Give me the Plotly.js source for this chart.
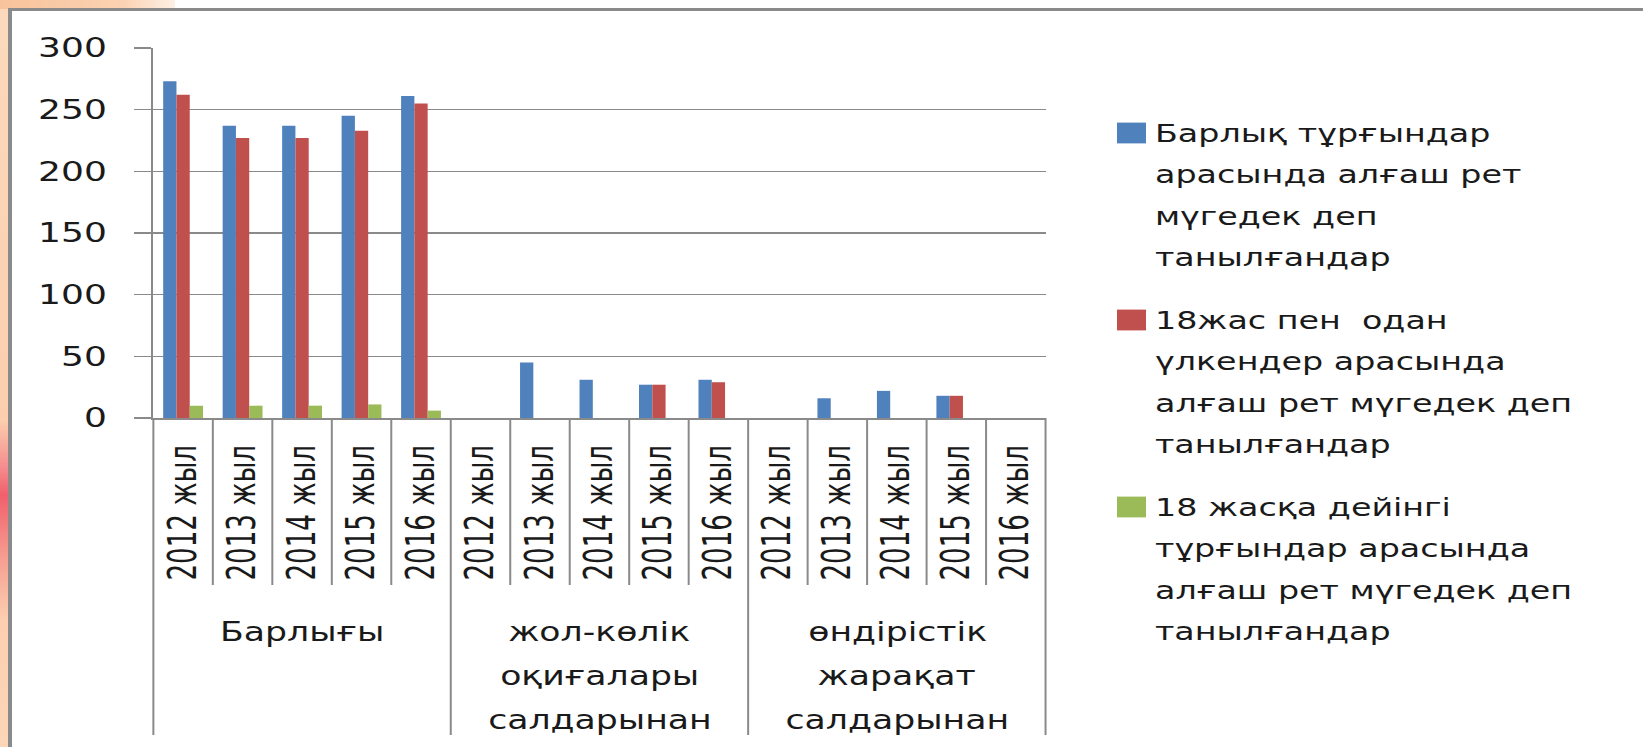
<!DOCTYPE html>
<html>
<head>
<meta charset="utf-8">
<script src="https://cdn.plot.ly/plotly-3.0.1.min.js"></script>
<style>
html,body{margin:0;padding:0;background:#fff;overflow:hidden;}
#stage{position:relative;width:1643px;height:747px;overflow:hidden;background:#fff;}
#decoLeft{position:absolute;left:0;top:0;width:9px;height:747px;
  background:linear-gradient(to bottom,#fcd9bd 0px,#fbcfae 420px,#f59090 465px,#f0606c 495px,#f6a092 560px,#fccfb0 620px,#fcd6b8 747px);}
#decoTop{position:absolute;left:0;top:0;width:175px;height:9px;
  background:linear-gradient(to right,#f8c39c 0%,#fbd2b2 70%,rgba(253,230,212,0.6) 100%);}
#frame{position:absolute;left:8px;top:8px;width:1700px;height:800px;
  border-left:4px solid #8a8a8a;border-top:3px solid #8a8a8a;box-sizing:border-box;}
#chart{position:absolute;left:0;top:0;width:1232px;height:747px;
  transform:scaleX(1.333604);transform-origin:0 0;}
</style>
</head>
<body>
<div id="stage">
  <div id="decoLeft"></div>
  <div id="decoTop"></div>
  <div id="frame"></div>
  <div id="chart"></div>
</div>
<script>
// ---------- data ----------
const groups = ["Барлығы", "жол-көлік<br>оқиғалары<br>салдарынан", "өндірістік<br>жарақат<br>салдарынан"];
const years = ["2012 жыл", "2013 жыл", "2014 жыл", "2015 жыл", "2016 жыл"];
const seriesNames = [
  "Барлық тұрғындар<br>арасында алғаш рет<br>мүгедек деп<br>танылғандар",
  "18жас пен  одан<br>үлкендер арасында<br>алғаш рет мүгедек деп<br>танылғандар",
  "18 жасқа дейінгі<br>тұрғындар арасында<br>алғаш рет мүгедек деп<br>танылғандар"
];
const allResidents = [273, 237, 237, 245, 261,  null, 45, 31, 27, 31,  null, 16, 22, 18, null];
const adults       = [262, 227, 227, 233, 255,  null, null, null, 27, 29,  null, null, null, 18, null];
const children     = [10, 10, 10, 11, 6,  null, null, null, null, null,  null, null, null, null, null];
const yTicks = [0, 50, 100, 150, 200, 250, 300];

// ---------- styles ----------
const colors = ["#4F81BD", "#C0504D", "#9BBB59"];
const gray = "#8a8a8a";
const textColor = "#1a1a1a";
const sans = "DejaVu Sans, Verdana, sans-serif";
const narrow = "DejaVu Sans Condensed, Liberation Sans Narrow, Roboto Condensed, DejaVu Sans, sans-serif";

// ---------- geometry helpers (full-page pixels -> paper coords) ----------
const S = 1643 / 1232;
const L = 115, R = 448, T = 48, B = 329;
const PW = 1232 - L - R, PH = 747 - T - B;
const fx = px => (px / S - L) / PW;
const fy = py => (T + PH - py) / PH;

const catKeys = [];
const tickText = [];
groups.forEach((g, gi) => years.forEach(y => { catKeys.push(gi + "|" + y); tickText.push(y); }));

const seriesValues = [allResidents, adults, children];
const traces = seriesValues.map((vals, i) => ({
  type: "bar",
  name: seriesNames[i],
  x: catKeys,
  y: vals,
  marker: {color: colors[i], line: {width: 0}},
  showlegend: false,
  hoverinfo: "skip"
}));

const shapes = [];
const annotations = [];

// category separators below the axis (between years)
const nCat = catKeys.length;
for (let k = 0; k <= nCat; k++) {
  if (k % years.length === 0) continue;
  shapes.push({type: "line", xref: "paper", yref: "paper",
    x0: k / nCat, x1: k / nCat, y0: 0, y1: fy(585),
    line: {color: gray, width: 1.5}});
}
// group dividers below the axis
for (let k = 0; k <= groups.length; k++) {
  shapes.push({type: "line", xref: "paper", yref: "paper",
    x0: k / groups.length, x1: k / groups.length, y0: 0, y1: fy(735),
    line: {color: gray, width: 1.5}});
}
// group labels
groups.forEach((g, gi) => {
  g.split("<br>").forEach((line, j) => {
    annotations.push({xref: "paper", yref: "paper", x: (gi + 0.5) / groups.length, y: fy(632 + 44 * j),
      xanchor: "center", yanchor: "middle", showarrow: false, text: line,
      font: {family: sans, size: 26, color: textColor}});
  });
});
// custom legend
seriesNames.forEach((name, i) => {
  const cy = 133 + i * 187;
  shapes.push({type: "rect", xref: "paper", yref: "paper",
    x0: fx(1117), x1: fx(1146), y0: fy(cy + 10.4), y1: fy(cy - 10.4),
    fillcolor: colors[i], line: {width: 0}});
  name.split("<br>").forEach((line, j) => {
    annotations.push({xref: "paper", yref: "paper", x: fx(1152), y: fy(cy + 41.5 * j),
      xanchor: "left", yanchor: "middle", showarrow: false, text: line,
      font: {family: sans, size: 25, color: textColor}});
  });
});

const layout = {
  width: 1232, height: 747,
  margin: {l: L, r: R, t: T, b: B, pad: 0},
  paper_bgcolor: "rgba(0,0,0,0)",
  plot_bgcolor: "#ffffff",
  barmode: "group", bargap: 0.33, bargroupgap: 0,
  showlegend: false,
  xaxis: {
    type: "category", range: [-0.5, catKeys.length - 0.5],
    tickmode: "array", tickvals: catKeys, ticktext: tickText, tickangle: -90,
    ticks: "", ticklabelstandoff: 14,
    showline: true, linecolor: gray, linewidth: 1.5, showgrid: false, zeroline: false,
    tickfont: {family: narrow, size: 29, color: textColor},
    fixedrange: true
  },
  yaxis: {
    range: [0, 300], tickmode: "array", tickvals: yTicks,
    ticks: "outside", ticklen: 13, tickwidth: 1.5, tickcolor: gray,
    ticklabelstandoff: 15,
    showgrid: true, gridcolor: gray, gridwidth: 1.5,
    showline: true, linecolor: gray, linewidth: 1.5, zeroline: false,
    tickfont: {family: sans, size: 27, color: textColor},
    fixedrange: true
  },
  shapes: shapes,
  annotations: annotations
};

Plotly.newPlot("chart", traces, layout, {displayModeBar: false, staticPlot: true});
</script>
</body>
</html>
